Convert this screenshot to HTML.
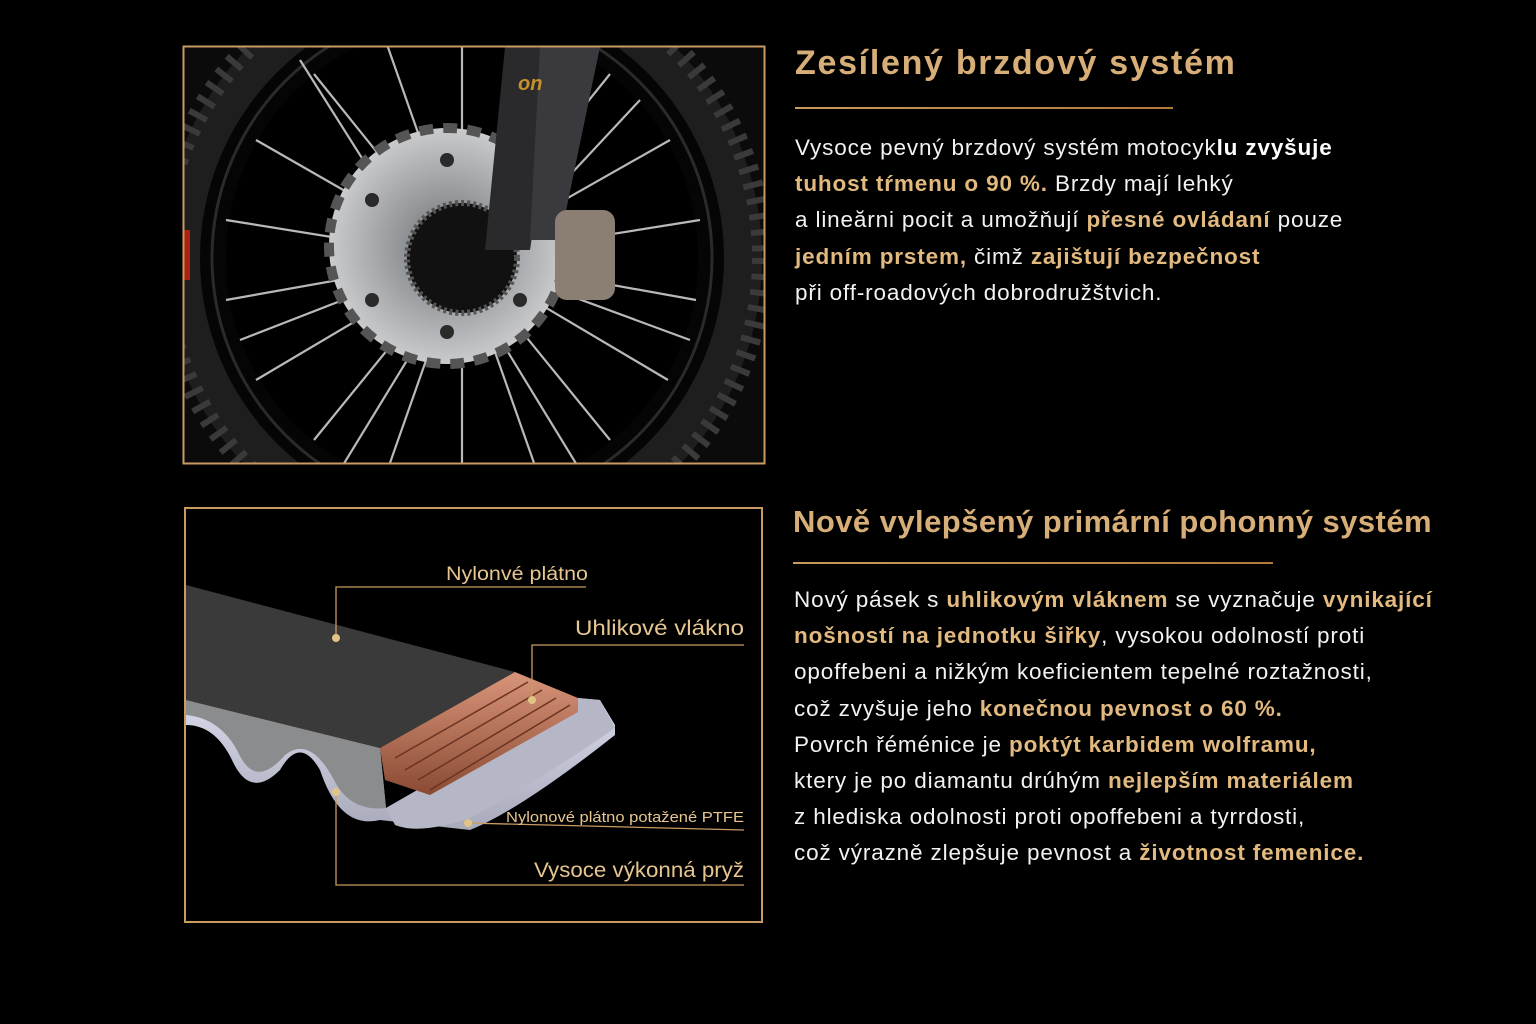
<!DOCTYPE html>
<html><head><meta charset="utf-8"><style>
body{margin:0;width:1536px;height:1024px;background:#000;overflow:hidden;position:relative;font-family:"Liberation Sans","DejaVu Sans",sans-serif}
.h{position:absolute;color:#d8ae78;font-weight:bold;font-size:34px;white-space:nowrap}
.ln{position:absolute;height:2px;background:linear-gradient(90deg,#c89a5a,#b07a3a)}
.p{position:absolute;color:#f2f2f2;font-size:22.5px;line-height:36.2px;white-space:nowrap;letter-spacing:0.85px}
.p b{color:#e2b97e}
svg{position:absolute}
</style></head><body>
<svg style="left:0;top:0" width="1536" height="1024">
<defs>
<clipPath id="c1"><rect x="184" y="47" width="580" height="416"/></clipPath>
<radialGradient id="disc" cx="0.5" cy="0.5" r="0.5"><stop offset="0.3" stop-color="#8a8d90"/><stop offset="1" stop-color="#c9cbcd"/></radialGradient>
<linearGradient id="cu" x1="0" y1="0" x2="0" y2="1"><stop offset="0" stop-color="#d9957a"/><stop offset="1" stop-color="#8a4a33"/></linearGradient>
<linearGradient id="lav" x1="0" y1="0" x2="0" y2="1"><stop offset="0" stop-color="#d8daea"/><stop offset="1" stop-color="#a8aabb"/></linearGradient>
</defs>
<g clip-path="url(#c1)">
<rect x="184" y="47" width="580" height="416" fill="#0b0b0b"/>
<circle cx="462" cy="258" r="300" fill="#1e1e1e"/>
<circle cx="462" cy="258" r="300" fill="none" stroke="#3a3a3a" stroke-width="20" stroke-dasharray="6 10"/>
<circle cx="462" cy="258" r="262" fill="#050505"/>
<circle cx="462" cy="258" r="250" fill="none" stroke="#2a2a2a" stroke-width="3"/>
<circle cx="462" cy="258" r="236" fill="#000"/>
<g stroke="#b9b9b9" stroke-width="2.2">
<line x1="462" y1="258" x2="462" y2="24"/><line x1="462" y1="258" x2="540" y2="36"/><line x1="462" y1="258" x2="610" y2="74"/><line x1="462" y1="258" x2="670" y2="140"/><line x1="462" y1="258" x2="700" y2="220"/><line x1="462" y1="258" x2="696" y2="300"/><line x1="462" y1="258" x2="668" y2="380"/><line x1="462" y1="258" x2="610" y2="440"/><line x1="462" y1="258" x2="540" y2="480"/><line x1="462" y1="258" x2="462" y2="492"/><line x1="462" y1="258" x2="384" y2="480"/><line x1="462" y1="258" x2="314" y2="440"/><line x1="462" y1="258" x2="256" y2="380"/><line x1="462" y1="258" x2="226" y2="300"/><line x1="462" y1="258" x2="226" y2="220"/><line x1="462" y1="258" x2="256" y2="140"/><line x1="462" y1="258" x2="314" y2="74"/><line x1="462" y1="258" x2="384" y2="36"/>
<line x1="420" y1="250" x2="300" y2="60"/><line x1="500" y1="250" x2="640" y2="100"/><line x1="500" y1="270" x2="690" y2="340"/><line x1="420" y1="270" x2="240" y2="340"/><line x1="470" y1="290" x2="580" y2="470"/><line x1="450" y1="290" x2="340" y2="470"/>
</g>
<circle cx="447" cy="246" r="118" fill="url(#disc)"/>
<circle cx="447" cy="246" r="118" fill="none" stroke="#555" stroke-width="10" stroke-dasharray="14 10"/>
<g fill="#2a2a2a"><circle cx="447" cy="160" r="7"/><circle cx="520" cy="200" r="7"/><circle cx="520" cy="300" r="7"/><circle cx="447" cy="332" r="7"/><circle cx="372" cy="300" r="7"/><circle cx="372" cy="200" r="7"/></g>
<circle cx="462" cy="258" r="55" fill="#111" stroke="#555" stroke-width="6" stroke-dasharray="3 3"/>
<polygon points="505,47 560,47 530,250 485,250" fill="#2a2a2c"/>
<polygon points="540,47 600,47 560,240 530,240" fill="#3a3a3e"/>
<rect x="555" y="210" width="60" height="90" rx="12" fill="#8a7f72"/>
<text x="518" y="90" fill="#c8902a" font-size="20" font-weight="bold" font-style="italic">on</text>
<rect x="184" y="230" width="6" height="50" fill="#b02010"/>
</g>
<rect x="183.5" y="46.5" width="581" height="417" fill="none" stroke="#c99a62" stroke-width="2"/>

<rect x="185" y="508" width="577" height="414" fill="#000" stroke="#c99a62" stroke-width="2"/>
<!-- belt -->
<path d="M186,725 Q215,725 232,760 Q250,800 280,770 Q300,735 320,770 Q340,830 380,820 L470,830 Q520,810 615,735 L615,725 L600,700 L578,698 L386,808 L380,748 L186,700Z" fill="url(#lav)"/>
<path d="M186,700 L380,748 L386,808 Q350,812 334,780 Q310,735 285,755 Q255,790 238,752 Q220,718 186,715Z" fill="#8b8c8e"/>
<path d="M386,808 L578,698 L600,700 L615,728 Q540,780 470,818 Q420,835 395,825Z" fill="#b5b7c6"/>
<polygon points="186,585 515,672 380,748 186,700" fill="#3a3a3a"/>
<polygon points="380,748 515,672 578,698 578,712 430,795 385,780" fill="url(#cu)"/>
<g stroke="#6a3422" stroke-width="1.5"><line x1="395" y1="758" x2="528" y2="682"/><line x1="405" y1="770" x2="542" y2="690"/><line x1="418" y1="780" x2="556" y2="698"/><line x1="430" y1="790" x2="570" y2="705"/></g>
<g fill="none" stroke="#c99a62" stroke-width="1.3">
<polyline points="336,638 336,587 586,587"/>
<polyline points="532,700 532,645 744,645"/>
<polyline points="467,823 744,830"/>
<polyline points="336,792 336,885 744,885"/>
</g>
<g fill="#e3c488"><circle cx="336" cy="638" r="4"/><circle cx="532" cy="700" r="4"/><circle cx="468" cy="823" r="4"/><circle cx="336" cy="792" r="4"/></g>
<g fill="#e6c690" font-family="Liberation Sans,sans-serif">
<text x="446" y="580" font-size="19" textLength="142" lengthAdjust="spacingAndGlyphs">Nylonvé plátno</text>
<text x="575" y="635" font-size="21" textLength="169" lengthAdjust="spacingAndGlyphs">Uhlikové vlákno</text>
<text x="506" y="822" font-size="15" textLength="238" lengthAdjust="spacingAndGlyphs">Nylonové plátno potažené  PTFE</text>
<text x="534" y="877" font-size="21" textLength="210" lengthAdjust="spacingAndGlyphs">Vysoce výkonná pryž</text>
</g>
</svg>

<div class="h" style="left:795px;top:44px;letter-spacing:1.7px">Zesílený brzdový systém</div>
<div class="ln" style="left:795px;top:107px;width:378px"></div>
<div class="p" style="left:795px;top:130px">Vysoce pevný brzdový systém motocyk<b style="color:#fff">lu zvyšuje</b><br><b>tuhost tŕmenu o 90 %.</b> Brzdy mají lehký<br>a lineărni pocit a umožňují <b>přesné ovládaní</b> pouze<br><b>jedním prstem,</b> čimž <b>zajištují bezpečnost</b><br>při off-roadových dobrodružštvich.</div>

<div class="h" style="left:793px;top:504px;font-size:31px;letter-spacing:0.45px">Nově vylepšený primární pohonný systém</div>
<div class="ln" style="left:793px;top:562px;width:480px"></div>
<div class="p" style="left:794px;top:582px">Nový pásek s <b>uhlikovým vláknem</b> se vyznačuje <b>vynikající</b><br><b>nošností na jednotku šiřky</b>, vysokou odolností proti<br>opoffebeni a nižkým koeficientem tepelné roztažnosti,<br>což zvyšuje jeho <b>konečnou pevnost o 60 %.</b><br>Povrch řéménice je <b>poktýt karbidem wolframu,</b><br>ktery je po diamantu drúhým <b>nejlepším materiálem</b><br>z hlediska odolnosti proti opoffebeni a tyrrdosti,<br>což výrazně zlepšuje pevnost a <b>životnost femenice.</b></div>
</body></html>
